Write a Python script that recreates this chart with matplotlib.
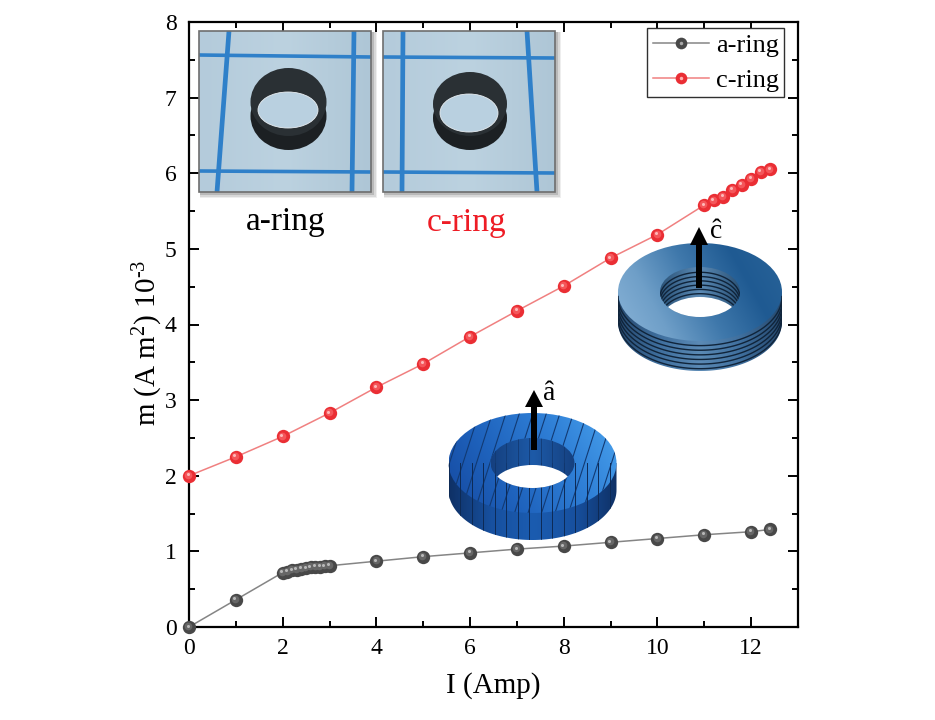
import numpy as np
import matplotlib
matplotlib.use('Agg')
import matplotlib.pyplot as plt
from matplotlib.colors import LinearSegmentedColormap
from matplotlib.legend_handler import HandlerTuple
from matplotlib.lines import Line2D
from matplotlib.patches import Ellipse, PathPatch, Polygon, Rectangle
from matplotlib.path import Path
from matplotlib.transforms import ScaledTranslation

plt.rcParams['font.family'] = ['Liberation Serif', 'DejaVu Serif']
plt.rcParams['mathtext.fontset'] = 'custom'
plt.rcParams['mathtext.rm'] = 'Liberation Serif'
plt.rcParams['mathtext.default'] = 'rm'

a_current = [0, 1, 2, 2.1, 2.2, 2.3, 2.4, 2.5, 2.6, 2.7, 2.8, 2.9, 3, 4, 5, 6, 7, 8, 9, 10, 11, 12, 12.4]
a_moment = [0, 0.36, 0.72, 0.73, 0.75, 0.76, 0.77, 0.78, 0.79, 0.795, 0.80, 0.805, 0.81,
            0.87, 0.93, 0.98, 1.03, 1.07, 1.12, 1.17, 1.22, 1.26, 1.29]
c_current = [0, 1, 2, 3, 4, 5, 6, 7, 8, 9, 10, 11, 11.2, 11.4, 11.6, 11.8, 12, 12.2, 12.4]
c_moment = [2.0, 2.25, 2.52, 2.83, 3.17, 3.48, 3.84, 4.18, 4.51, 4.88, 5.19, 5.58,
            5.64, 5.69, 5.78, 5.85, 5.93, 6.02, 6.05]
x_ticks = [0, 2, 4, 6, 8, 10, 12]
y_ticks = [0, 1, 2, 3, 4, 5, 6, 7, 8]

W, H = 935, 720
fig = plt.figure(figsize=(9.35, 7.2), dpi=100)
ax = fig.add_axes([189 / W, 1 - 627 / H, 609 / W, 605 / H])


def balls(x, y, line, body, mid, shine):
    ax.plot(x, y, '-', color=line, lw=1.1, zorder=3, clip_on=False)
    ax.plot(x, y, 'o', color=body, ms=9.6, mew=0, zorder=4, clip_on=False)
    off1 = ax.transData + ScaledTranslation(-0.6 / 72, 0.6 / 72, fig.dpi_scale_trans)
    off2 = ax.transData + ScaledTranslation(-1.0 / 72, 1.0 / 72, fig.dpi_scale_trans)
    ax.plot(x, y, 'o', color=mid, ms=5.5, mew=0, zorder=5, clip_on=False, transform=off1)
    ax.plot(x, y, 'o', color=shine, ms=2.2, mew=0, zorder=6, clip_on=False, transform=off2)


balls(a_current, a_moment, '#858585', '#484848', '#666666', '#b8b8b8')
balls(c_current, c_moment, '#f08080', '#ea2e34', '#f4565a', '#ffb8b8')

ax.set_xlim(0, 13)
ax.set_ylim(0, 8)
ax.set_xticks(x_ticks)
ax.set_yticks(y_ticks)
ax.set_xticks(np.arange(1, 13, 2), minor=True)
ax.set_yticks(np.arange(0.5, 8, 1), minor=True)
ax.tick_params(which='major', direction='in', length=7, width=1.4, top=True, right=True, labelsize=17)
ax.tick_params(which='minor', direction='in', length=4, width=1.4, top=True, right=True)
ax.tick_params(axis='x', which='major', pad=8)
ax.tick_params(axis='y', which='major', pad=9)
for s in ax.spines.values():
    s.set_linewidth(1.6)
ax.set_xlabel('I (Amp)', fontsize=21, labelpad=9)
ax.set_ylabel(r'm (A m$^{2}$) 10$^{\text{-}3}$', fontsize=21, labelpad=0, y=0.47)


# legend
def handle(line, body, shine):
    return (Line2D([], [], color=line, lw=1.1, marker='o', ms=8.4, mfc=body, mew=0),
            Line2D([], [], ls='', marker='o', ms=2.5, color=shine, mew=0))


ax.legend([handle('#858585', '#484848', '#a8a8a8'), handle('#f08080', '#ea2e34', '#ffb0b0')],
          ['a-ring', 'c-ring'], handler_map={tuple: HandlerTuple(ndivide=1, pad=0)},
          loc='upper right', bbox_to_anchor=(0.9775, 0.99), borderaxespad=0, fontsize=19,
          fancybox=False, framealpha=1, edgecolor='#303030', handlelength=2.15, labelspacing=0.45,
          handletextpad=0.25, borderpad=0.2).get_frame().set_linewidth(1.0)

# overlay for the pictures, in pixel coordinates
ov = fig.add_axes([0, 0, 1, 1], facecolor='none', zorder=10)
ov.set_axis_off()


def ell_path(cx, cy, rx, ry, reverse=False):
    t = np.linspace(0, 2 * np.pi, 160)
    if reverse:
        t = t[::-1]
    return np.c_[cx + rx * np.cos(t), cy + ry * np.sin(t)]


def closed(*rings):
    verts, codes = [], []
    for r in rings:
        verts.extend(r)
        codes.extend([Path.MOVETO] + [Path.LINETO] * (len(r) - 2) + [Path.CLOSEPOLY])
    return Path(np.array(verts), codes)


def gradient(extent, colors, clip, diag=False):
    n = 200
    gx = np.linspace(0, 1, n)[None, :]
    if diag:
        gy = np.linspace(0, 1, n)[:, None]
        g = 0.75 * gx + 0.25 * (1 - gy)
    else:
        g = gx
    cmap = LinearSegmentedColormap.from_list('g', colors)
    im = ov.imshow(g, extent=extent, cmap=cmap, vmin=0, vmax=1, aspect='auto', zorder=2, origin='upper')
    im.set_clip_path(clip)
    return im


def ring(cx, cy, rx, ry, hx, hy, depth, top_cols, side_cols, wall_cols):
    # side
    t = np.linspace(0, np.pi, 120)
    side_pts = np.r_[[[cx + rx, cy]], np.c_[cx + rx * np.cos(t), cy + depth + ry * np.sin(t)], [[cx - rx, cy]]]
    side = Polygon(side_pts, closed=True, fc='none', ec='none', transform=ov.transData)
    ov.add_patch(side)
    gradient((cx - rx, cx + rx, cy + depth + ry, cy), side_cols, side)
    # top face
    outer = Ellipse((cx, cy), 2 * rx, 2 * ry, fc='none', ec='none')
    ov.add_patch(outer)
    gradient((cx - rx, cx + rx, cy + ry, cy - ry), top_cols, outer, diag=True)
    # bore
    hole = Ellipse((cx, cy), 2 * hx, 2 * hy, fc='none', ec='none')
    ov.add_patch(hole)
    gradient((cx - hx, cx + hx, cy + hy, cy - hy), wall_cols, hole)
    white = Ellipse((cx, cy + depth), 2 * hx, 2 * hy, fc='white', ec='none', zorder=4)
    ov.add_patch(white)
    white.set_clip_path(hole)
    return side, hole


def arrow(x, y_tail, y_neck, y_tip, half):
    ov.add_patch(Rectangle((x - 3.2, y_neck), 6.4, y_tail - y_neck, fc='black', ec='none', zorder=8))
    ov.add_patch(Polygon([(x - half, y_neck), (x + half, y_neck), (x, y_tip)], fc='black', ec='none', zorder=8))


# a-axis ring
ax_, ay, arx, ary, ahx, ahy, ad = 532.5, 463, 84, 50, 42, 25, 27
side, hole = ring(ax_, ay, arx, ary, ahx, ahy, ad,
                  ['#1549a0', '#1f63bd', '#2f7fd6', '#4aa3ee'],
                  ['#0f3166', '#17509f', '#1b5cb0', '#17509f', '#0f3166'],
                  ['#15407f', '#1d5aa8', '#15407f'])
annulus = closed(ell_path(ax_, ay, arx, ary), ell_path(ax_, ay, ahx, ahy, reverse=True))
ann_patch = PathPatch(annulus, fc='none', ec='none')
ov.add_patch(ann_patch)
for x0 in np.arange(ax_ - 110, ax_ + 110, 13.5):
    ln, = ov.plot([x0 - 16, x0 + 16], [ay + ary, ay - ary], color='#123a73', lw=0.8, zorder=3)
    ln.set_clip_path(ann_patch)
for x0 in np.arange(ax_ - 84, ax_ + 85, 11.5):
    ln, = ov.plot([x0, x0], [ay, ay + ary + ad], color='#0d2a55', lw=0.7, zorder=3)
    ln.set_clip_path(side)
    ln2, = ov.plot([x0, x0], [ay - ahy, ay + ahy], color='#123a73', lw=0.6, zorder=3)
    ln2.set_clip_path(hole)
arrow(534, 450, 407, 390, 9)
ov.text(549, 393, 'â', fontsize=20, ha='center', va='center', zorder=9)

# c-axis ring
cx_, cy_, crx, cry, chx, chy, cd = 700, 292, 82, 49, 40, 25, 30
side, hole = ring(cx_, cy_, crx, cry, chx, chy, cd,
                  ['#8ab4d8', '#6f9fc8', '#3f78ab', '#1f5a92', '#2a6499'],
                  ['#26496f', '#3f6f9e', '#5b8ab5', '#3f6f9e', '#26496f'],
                  ['#2b5378', '#5b8ab5', '#2b5378'])
for k in range(1, 7):
    t = np.linspace(0, np.pi, 80)
    ln, = ov.plot(cx_ + crx * np.cos(t), cy_ + k * cd / 6.5 + cry * np.sin(t), color='#10243a', lw=1.0, zorder=3)
    ln.set_clip_path(side)
    ln2, = ov.plot(cx_ + chx * np.cos(t + np.pi), cy_ + k * cd / 7 + 1 + chy * np.sin(t + np.pi), color='#10243a', lw=1.0, zorder=3)
    ln2.set_clip_path(hole)
arrow(699, 288, 245, 227, 9)
ov.text(716, 232, 'ĉ', fontsize=20, ha='center', va='center', zorder=9)


def photo(x0, x1, y0, y1, vlines, hlines, body, bore):
    for grow, alpha in ((5, 0.10), (3.5, 0.15), (2, 0.25)):
        ov.add_patch(Rectangle((x0 + 1, y0 + 1), x1 - x0 + grow, y1 - y0 + grow, fc='#606060', alpha=alpha, ec='none', zorder=1))
    frame = Rectangle((x0, y0), x1 - x0, y1 - y0, fc='none', ec='#6e6e6e', lw=1.2, zorder=7)
    ov.add_patch(frame)
    clip = Rectangle((x0, y0), x1 - x0, y1 - y0, fc='none', ec='none')
    ov.add_patch(clip)
    gradient((x0, x1, y1, y0), ['#b4cbdb', '#bcd2e0', '#aec6d6'], clip)
    for (xa, xb) in vlines:
        ln, = ov.plot([xa, xb], [y0, y1], color='#2f80c9', lw=3.4, zorder=3, solid_capstyle='butt')
        ln.set_clip_path(clip)
    for (ya, yb) in hlines:
        ln, = ov.plot([x0, x1], [ya, yb], color='#2f80c9', lw=2.6, zorder=3, solid_capstyle='butt')
        ln.set_clip_path(clip)
    bx, by, brx, bry, sh = body
    ov.add_patch(Ellipse((bx, by + sh), 2 * brx, 2 * bry, fc='#1c2023', ec='none', zorder=4))
    ov.add_patch(Ellipse((bx, by), 2 * brx, 2 * bry, fc='#2a3034', ec='none', zorder=4))
    hx_, hy_, hrx, hry = bore
    ov.add_patch(Ellipse((hx_, hy_), 2 * hrx, 2 * hry, fc='#b9d0e0', ec='#e8eef2', lw=0.6, zorder=5))


photo(199, 371, 31, 192, [(229, 217), (354, 352)], [(55, 57), (171, 172)],
      (288.5, 102, 38, 34, 14), (288, 110, 30, 18))
photo(383, 555, 31, 192, [(403, 402), (527, 537)], [(57, 58), (172, 173)],
      (470, 104, 37, 32, 14), (469, 113, 29, 19))
ov.text(286, 222, 'a-ring', fontsize=24, ha='center', va='center', color='black', zorder=9)
ov.text(467, 223, 'c-ring', fontsize=24, ha='center', va='center', color='#ee1c25', zorder=9)

ov.set_xlim(0, W)
ov.set_ylim(H, 0)

fig.savefig('out.png', dpi=100, facecolor='white')
